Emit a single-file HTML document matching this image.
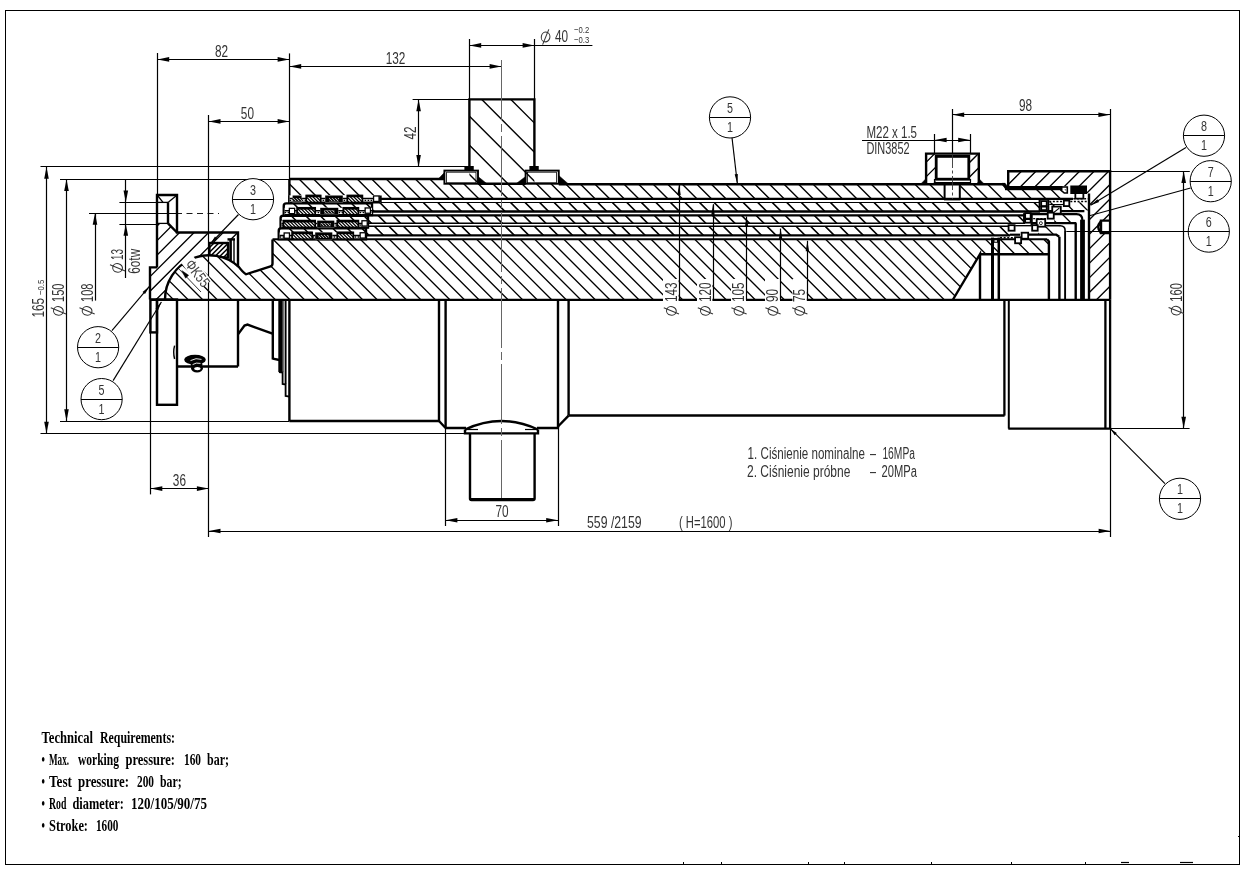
<!DOCTYPE html><html><head><meta charset="utf-8"><title>Drawing</title><style>html,body{margin:0;padding:0;background:#fff;}body{width:1255px;height:871px;overflow:hidden;font-family:"Liberation Sans",sans-serif;}svg{display:block;}svg{will-change:transform;filter:grayscale(1)}</style></head><body><svg width="1255" height="871" viewBox="0 0 1255 871"><defs><clipPath id="c1"><path d="M469.40 99.40 L534.40 99.40 L534.40 183.75 L469.40 183.75 Z"/></clipPath><clipPath id="c2"><path d="M289.40 179.00 L444.40 179.00 L444.40 183.90 L1005.00 184.30 L1007.50 189.50 L1066.00 189.50 L1066.00 198.75 L380.50 198.75 L380.50 195.50 L289.40 195.50 Z M944.2 183 L960.2 183 L960.2 200 L944.2 200 Z" clip-rule="evenodd"/></clipPath><clipPath id="c3"><path d="M372.00 202.10 L1040.00 202.10 L1040.00 211.60 L372.00 211.60 Z"/></clipPath><clipPath id="c4"><path d="M368.00 215.30 L1025.00 215.30 L1025.00 223.20 L368.00 223.20 Z"/></clipPath><clipPath id="c5"><path d="M366.00 226.20 L1010.00 226.20 L1010.00 235.40 L366.00 235.40 Z"/></clipPath><clipPath id="c6"><path d="M157 223.4 L168 223.4 L177 232.5 L238 232.5 L238 299.5 L150 299.5 L150 267.4 L157 267.4 Z"/></clipPath><clipPath id="c7"><path d="M209.40 243.00 L228.00 243.00 L228.00 257.50 L209.40 257.50 Z"/></clipPath><clipPath id="c8"><path d="M165.00 299.5 A44.0 44.0 0 0 1 239.01 267.12 Q243 272.5 246 274.3 L271.3 266.2 L272.5 264 L272.5 239.4 L1049 239.4 L1049 254 L980 254 L953 299.5 Z"/></clipPath><clipPath id="c9"><path d="M283.75 215.0 L283.75 205.9 Q283.75 203.4 286.25 203.4 L372 203.4 L372 215.0 Z"/></clipPath><clipPath id="c10"><path d="M280.6 227.6 L280.6 218.3 Q280.6 215.8 283.1 215.8 L368 215.8 L368 227.6 Z"/></clipPath><clipPath id="c11"><path d="M278.75 239.4 L278.75 230.7 Q278.75 228.2 281.25 228.2 L366 228.2 L366 239.4 Z"/></clipPath><clipPath id="c12"><path d="M292.10 198.10 L302.10 198.10 L302.10 201.30 L292.10 201.30 Z"/></clipPath><clipPath id="c13"><path d="M306.20 195.50 L320.70 195.50 L320.70 202.50 L306.20 202.50 Z"/></clipPath><clipPath id="c14"><path d="M329.00 198.10 L339.00 198.10 L339.00 201.30 L329.00 201.30 Z"/></clipPath><clipPath id="c15"><path d="M347.30 195.50 L362.40 195.50 L362.40 202.50 L347.30 202.50 Z"/></clipPath><clipPath id="c16"><path d="M297.10 207.80 L315.20 207.80 L315.20 214.80 L297.10 214.80 Z"/></clipPath><clipPath id="c17"><path d="M324.25 210.40 L334.25 210.40 L334.25 213.60 L324.25 213.60 Z"/></clipPath><clipPath id="c18"><path d="M343.30 207.80 L358.40 207.80 L358.40 214.80 L343.30 214.80 Z"/></clipPath><clipPath id="c19"><path d="M283.40 220.60 L315.20 220.60 L315.20 227.40 L283.40 227.40 Z"/></clipPath><clipPath id="c20"><path d="M320.75 223.20 L330.75 223.20 L330.75 226.20 L320.75 226.20 Z"/></clipPath><clipPath id="c21"><path d="M337.30 220.60 L358.40 220.60 L358.40 227.40 L337.30 227.40 Z"/></clipPath><clipPath id="c22"><path d="M292.10 232.40 L312.20 232.40 L312.20 239.20 L292.10 239.20 Z"/></clipPath><clipPath id="c23"><path d="M318.75 235.00 L328.75 235.00 L328.75 238.00 L318.75 238.00 Z"/></clipPath><clipPath id="c24"><path d="M337.30 232.40 L353.30 232.40 L353.30 239.20 L337.30 239.20 Z"/></clipPath><clipPath id="c25"><path d="M1008.20 171.20 L1110.30 171.20 L1110.30 299.50 L1089.40 299.50 L1089.40 193.50 L1087.00 193.50 L1087.00 186.20 L1008.20 186.20 Z M1099.5 220.5 L1111 220.5 L1111 233 L1099.5 233 Z" clip-rule="evenodd"/></clipPath><clipPath id="c26"><path d="M926.10 153.60 L935.60 153.60 L935.60 184.00 L926.10 184.00 Z"/></clipPath><clipPath id="c27"><path d="M969.30 153.60 L978.80 153.60 L978.80 184.00 L969.30 184.00 Z"/></clipPath><clipPath id="c28"><path d="M1049.24 202.29 L1088.90 202.29 L1088.90 210.62 L1049.24 210.62 Z"/></clipPath><clipPath id="c29"><path d="M1054.26 214.94 L1075.84 214.94 L1075.84 222.67 L1054.26 222.67 Z"/></clipPath><clipPath id="c30"><path d="M1038.19 226.39 L1059.28 226.39 L1059.28 234.22 L1038.19 234.22 Z"/></clipPath></defs><rect x="5.50" y="10.50" width="1234.00" height="854.00" fill="none" stroke="#000" stroke-width="1"/>
<line x1="683.50" y1="862.00" x2="683.50" y2="864.50" stroke="#000" stroke-width="1" />
<line x1="721.50" y1="862.00" x2="721.50" y2="864.50" stroke="#000" stroke-width="1" />
<line x1="808.50" y1="862.00" x2="808.50" y2="864.50" stroke="#000" stroke-width="1" />
<line x1="844.50" y1="862.00" x2="844.50" y2="864.50" stroke="#000" stroke-width="1" />
<line x1="931.50" y1="862.00" x2="931.50" y2="864.50" stroke="#000" stroke-width="1" />
<line x1="1011.50" y1="862.00" x2="1011.50" y2="864.50" stroke="#000" stroke-width="1" />
<line x1="1085.50" y1="862.00" x2="1085.50" y2="864.50" stroke="#000" stroke-width="1" />
<line x1="1121.00" y1="862.50" x2="1129.00" y2="862.50" stroke="#000" stroke-width="1.2" />
<line x1="1180.00" y1="862.50" x2="1193.00" y2="862.50" stroke="#000" stroke-width="1.2" />
<line x1="1238.00" y1="836.50" x2="1239.50" y2="836.50" stroke="#000" stroke-width="1" />
<g clip-path="url(#c1)" stroke="#000" stroke-width="1.4">
<path d="M363.38 97.40 L451.73 185.75 M392.46 97.40 L480.81 185.75 M421.54 97.40 L509.89 185.75 M450.62 97.40 L538.97 185.75 M479.70 97.40 L568.05 185.75 M508.78 97.40 L597.13 185.75 M537.86 97.40 L626.21 185.75" fill="none"/>
</g>
<path d="M469.40 168.00 L469.40 99.40 L534.40 99.40 L534.40 168.00" fill="none" stroke="#000" stroke-width="2.4" stroke-linejoin="miter" />
<rect x="444.40" y="170.60" width="33.60" height="13.15" fill="none" stroke="#000" stroke-width="1.9"/>
<rect x="525.60" y="170.60" width="33.15" height="13.15" fill="none" stroke="#000" stroke-width="1.9"/>
<rect x="446.60" y="172.20" width="29.40" height="10.60" fill="none" stroke="#000" stroke-width="0.8"/>
<rect x="527.60" y="172.20" width="29.00" height="10.60" fill="none" stroke="#000" stroke-width="0.8"/>
<rect x="464.40" y="166.00" width="9.35" height="4.80" fill="#000"/>
<rect x="529.40" y="166.00" width="9.35" height="4.80" fill="#000"/>
<path d="M438.20 179.00 L444.40 172.50 L444.40 179.00 Z" fill="#000" stroke="#000" stroke-width="0.5" stroke-linejoin="miter" />
<path d="M478.00 176.50 L487.00 183.75 L478.00 183.75 Z" fill="#000" stroke="#000" stroke-width="0.5" stroke-linejoin="miter" />
<path d="M525.60 176.50 L516.00 183.75 L525.60 183.75 Z" fill="#000" stroke="#000" stroke-width="0.5" stroke-linejoin="miter" />
<path d="M558.75 175.50 L568.50 184.00 L558.75 184.00 Z" fill="#000" stroke="#000" stroke-width="0.5" stroke-linejoin="miter" />
<line x1="478.00" y1="183.75" x2="525.60" y2="183.75" stroke="#000" stroke-width="2.4" />
<g clip-path="url(#c2)" stroke="#000" stroke-width="1.4">
<path d="M253.44 177.00 L277.19 200.75 M267.98 177.00 L291.73 200.75 M282.52 177.00 L306.27 200.75 M297.06 177.00 L320.81 200.75 M311.60 177.00 L335.35 200.75 M326.14 177.00 L349.89 200.75 M340.68 177.00 L364.43 200.75 M355.22 177.00 L378.97 200.75 M369.76 177.00 L393.51 200.75 M384.30 177.00 L408.05 200.75 M398.84 177.00 L422.59 200.75 M413.38 177.00 L437.13 200.75 M427.92 177.00 L451.67 200.75 M442.46 177.00 L466.21 200.75 M457.00 177.00 L480.75 200.75 M471.54 177.00 L495.29 200.75 M486.08 177.00 L509.83 200.75 M500.62 177.00 L524.37 200.75 M515.16 177.00 L538.91 200.75 M529.70 177.00 L553.45 200.75 M544.24 177.00 L567.99 200.75 M558.78 177.00 L582.53 200.75 M573.32 177.00 L597.07 200.75 M587.86 177.00 L611.61 200.75 M602.40 177.00 L626.15 200.75 M616.94 177.00 L640.69 200.75 M631.48 177.00 L655.23 200.75 M646.02 177.00 L669.77 200.75 M660.56 177.00 L684.31 200.75 M675.10 177.00 L698.85 200.75 M689.64 177.00 L713.39 200.75 M704.18 177.00 L727.93 200.75 M718.72 177.00 L742.47 200.75 M733.26 177.00 L757.01 200.75 M747.80 177.00 L771.55 200.75 M762.34 177.00 L786.09 200.75 M776.88 177.00 L800.63 200.75 M791.42 177.00 L815.17 200.75 M805.96 177.00 L829.71 200.75 M820.50 177.00 L844.25 200.75 M835.04 177.00 L858.79 200.75 M849.58 177.00 L873.33 200.75 M864.12 177.00 L887.87 200.75 M878.66 177.00 L902.41 200.75 M893.20 177.00 L916.95 200.75 M907.74 177.00 L931.49 200.75 M922.28 177.00 L946.03 200.75 M936.82 177.00 L960.57 200.75 M951.36 177.00 L975.11 200.75 M965.90 177.00 L989.65 200.75 M980.44 177.00 L1004.19 200.75 M994.98 177.00 L1018.73 200.75 M1009.52 177.00 L1033.27 200.75 M1024.06 177.00 L1047.81 200.75 M1038.60 177.00 L1062.35 200.75 M1053.14 177.00 L1076.89 200.75 M1067.68 177.00 L1091.43 200.75" fill="none"/>
</g>
<line x1="289.40" y1="179.00" x2="444.40" y2="179.00" stroke="#000" stroke-width="2.4" />
<line x1="558.75" y1="184.20" x2="1005.00" y2="184.20" stroke="#000" stroke-width="2.4" />
<line x1="380.50" y1="198.90" x2="1073.00" y2="198.90" stroke="#000" stroke-width="2.2" />
<line x1="289.40" y1="179.00" x2="289.40" y2="203.00" stroke="#000" stroke-width="2.4" />
<g clip-path="url(#c3)" stroke="#000" stroke-width="1.6">
<path d="M348.24 200.10 L361.74 213.60 M362.78 200.10 L376.28 213.60 M377.32 200.10 L390.82 213.60 M391.86 200.10 L405.36 213.60 M406.40 200.10 L419.90 213.60 M420.94 200.10 L434.44 213.60 M435.48 200.10 L448.98 213.60 M450.02 200.10 L463.52 213.60 M464.56 200.10 L478.06 213.60 M479.10 200.10 L492.60 213.60 M493.64 200.10 L507.14 213.60 M508.18 200.10 L521.68 213.60 M522.72 200.10 L536.22 213.60 M537.26 200.10 L550.76 213.60 M551.80 200.10 L565.30 213.60 M566.34 200.10 L579.84 213.60 M580.88 200.10 L594.38 213.60 M595.42 200.10 L608.92 213.60 M609.96 200.10 L623.46 213.60 M624.50 200.10 L638.00 213.60 M639.04 200.10 L652.54 213.60 M653.58 200.10 L667.08 213.60 M668.12 200.10 L681.62 213.60 M682.66 200.10 L696.16 213.60 M697.20 200.10 L710.70 213.60 M711.74 200.10 L725.24 213.60 M726.28 200.10 L739.78 213.60 M740.82 200.10 L754.32 213.60 M755.36 200.10 L768.86 213.60 M769.90 200.10 L783.40 213.60 M784.44 200.10 L797.94 213.60 M798.98 200.10 L812.48 213.60 M813.52 200.10 L827.02 213.60 M828.06 200.10 L841.56 213.60 M842.60 200.10 L856.10 213.60 M857.14 200.10 L870.64 213.60 M871.68 200.10 L885.18 213.60 M886.22 200.10 L899.72 213.60 M900.76 200.10 L914.26 213.60 M915.30 200.10 L928.80 213.60 M929.84 200.10 L943.34 213.60 M944.38 200.10 L957.88 213.60 M958.92 200.10 L972.42 213.60 M973.46 200.10 L986.96 213.60 M988.00 200.10 L1001.50 213.60 M1002.54 200.10 L1016.04 213.60 M1017.08 200.10 L1030.58 213.60 M1031.62 200.10 L1045.12 213.60 M1046.16 200.10 L1059.66 213.60" fill="none"/>
</g>
<line x1="372.00" y1="202.50" x2="1040.00" y2="202.50" stroke="#000" stroke-width="1.2" />
<line x1="372.00" y1="211.60" x2="1040.00" y2="211.60" stroke="#000" stroke-width="2.5" />
<g clip-path="url(#c4)" stroke="#000" stroke-width="1.6">
<path d="M346.90 213.30 L358.80 225.20 M361.44 213.30 L373.34 225.20 M375.98 213.30 L387.88 225.20 M390.52 213.30 L402.42 225.20 M405.06 213.30 L416.96 225.20 M419.60 213.30 L431.50 225.20 M434.14 213.30 L446.04 225.20 M448.68 213.30 L460.58 225.20 M463.22 213.30 L475.12 225.20 M477.76 213.30 L489.66 225.20 M492.30 213.30 L504.20 225.20 M506.84 213.30 L518.74 225.20 M521.38 213.30 L533.28 225.20 M535.92 213.30 L547.82 225.20 M550.46 213.30 L562.36 225.20 M565.00 213.30 L576.90 225.20 M579.54 213.30 L591.44 225.20 M594.08 213.30 L605.98 225.20 M608.62 213.30 L620.52 225.20 M623.16 213.30 L635.06 225.20 M637.70 213.30 L649.60 225.20 M652.24 213.30 L664.14 225.20 M666.78 213.30 L678.68 225.20 M681.32 213.30 L693.22 225.20 M695.86 213.30 L707.76 225.20 M710.40 213.30 L722.30 225.20 M724.94 213.30 L736.84 225.20 M739.48 213.30 L751.38 225.20 M754.02 213.30 L765.92 225.20 M768.56 213.30 L780.46 225.20 M783.10 213.30 L795.00 225.20 M797.64 213.30 L809.54 225.20 M812.18 213.30 L824.08 225.20 M826.72 213.30 L838.62 225.20 M841.26 213.30 L853.16 225.20 M855.80 213.30 L867.70 225.20 M870.34 213.30 L882.24 225.20 M884.88 213.30 L896.78 225.20 M899.42 213.30 L911.32 225.20 M913.96 213.30 L925.86 225.20 M928.50 213.30 L940.40 225.20 M943.04 213.30 L954.94 225.20 M957.58 213.30 L969.48 225.20 M972.12 213.30 L984.02 225.20 M986.66 213.30 L998.56 225.20 M1001.20 213.30 L1013.10 225.20 M1015.74 213.30 L1027.64 225.20 M1030.28 213.30 L1042.18 225.20" fill="none"/>
</g>
<line x1="368.00" y1="215.30" x2="1025.00" y2="215.30" stroke="#000" stroke-width="2.2" />
<line x1="368.00" y1="223.20" x2="1025.00" y2="223.20" stroke="#000" stroke-width="1.6" />
<g clip-path="url(#c5)" stroke="#000" stroke-width="1.6">
<path d="M343.26 224.20 L356.46 237.40 M357.80 224.20 L371.00 237.40 M372.34 224.20 L385.54 237.40 M386.88 224.20 L400.08 237.40 M401.42 224.20 L414.62 237.40 M415.96 224.20 L429.16 237.40 M430.50 224.20 L443.70 237.40 M445.04 224.20 L458.24 237.40 M459.58 224.20 L472.78 237.40 M474.12 224.20 L487.32 237.40 M488.66 224.20 L501.86 237.40 M503.20 224.20 L516.40 237.40 M517.74 224.20 L530.94 237.40 M532.28 224.20 L545.48 237.40 M546.82 224.20 L560.02 237.40 M561.36 224.20 L574.56 237.40 M575.90 224.20 L589.10 237.40 M590.44 224.20 L603.64 237.40 M604.98 224.20 L618.18 237.40 M619.52 224.20 L632.72 237.40 M634.06 224.20 L647.26 237.40 M648.60 224.20 L661.80 237.40 M663.14 224.20 L676.34 237.40 M677.68 224.20 L690.88 237.40 M692.22 224.20 L705.42 237.40 M706.76 224.20 L719.96 237.40 M721.30 224.20 L734.50 237.40 M735.84 224.20 L749.04 237.40 M750.38 224.20 L763.58 237.40 M764.92 224.20 L778.12 237.40 M779.46 224.20 L792.66 237.40 M794.00 224.20 L807.20 237.40 M808.54 224.20 L821.74 237.40 M823.08 224.20 L836.28 237.40 M837.62 224.20 L850.82 237.40 M852.16 224.20 L865.36 237.40 M866.70 224.20 L879.90 237.40 M881.24 224.20 L894.44 237.40 M895.78 224.20 L908.98 237.40 M910.32 224.20 L923.52 237.40 M924.86 224.20 L938.06 237.40 M939.40 224.20 L952.60 237.40 M953.94 224.20 L967.14 237.40 M968.48 224.20 L981.68 237.40 M983.02 224.20 L996.22 237.40 M997.56 224.20 L1010.76 237.40 M1012.10 224.20 L1025.30 237.40" fill="none"/>
</g>
<line x1="366.00" y1="226.20" x2="1010.00" y2="226.20" stroke="#000" stroke-width="1.4" />
<line x1="366.00" y1="235.40" x2="1010.00" y2="235.40" stroke="#000" stroke-width="2.4" />
<g clip-path="url(#c6)" stroke="#000" stroke-width="1.35">
<path d="M148.42 191.00 L36.42 303.00 M162.96 191.00 L50.96 303.00 M177.50 191.00 L65.50 303.00 M192.04 191.00 L80.04 303.00 M206.58 191.00 L94.58 303.00 M221.12 191.00 L109.12 303.00 M235.66 191.00 L123.66 303.00 M250.20 191.00 L138.20 303.00 M264.74 191.00 L152.74 303.00 M279.28 191.00 L167.28 303.00 M293.82 191.00 L181.82 303.00 M308.36 191.00 L196.36 303.00 M322.90 191.00 L210.90 303.00 M337.44 191.00 L225.44 303.00 M351.98 191.00 L239.98 303.00" fill="none"/>
</g>
<rect x="209.40" y="243.00" width="28.60" height="32.00" fill="#fff"/>
<rect x="227.50" y="239.40" width="10.50" height="4.60" fill="#fff"/>
<g clip-path="url(#c7)" stroke="#000" stroke-width="1.5">
<path d="M211.20 241.00 L192.70 259.50 M216.00 241.00 L197.50 259.50 M220.80 241.00 L202.30 259.50 M225.60 241.00 L207.10 259.50 M230.40 241.00 L211.90 259.50 M235.20 241.00 L216.70 259.50 M240.00 241.00 L221.50 259.50 M244.80 241.00 L226.30 259.50" fill="none"/>
</g>
<rect x="209.40" y="243.00" width="18.60" height="14.50" fill="none" stroke="#000" stroke-width="2.4"/>
<line x1="227.50" y1="239.40" x2="235.00" y2="239.40" stroke="#000" stroke-width="2.4" />
<line x1="230.60" y1="239.40" x2="230.60" y2="266.00" stroke="#000" stroke-width="2.6" />
<line x1="234.00" y1="239.40" x2="234.00" y2="268.00" stroke="#000" stroke-width="1.4" />
<path d="M165.00 299.5 A44.0 44.0 0 0 1 239.01 267.12 Q243 272.5 246 274.3 L271.3 266.2 L272.5 264 L272.5 239.4 L1049 239.4 L1049 254 L980 254 L953 299.5 Z" fill="#fff" stroke="none" stroke-width="0" />
<g clip-path="url(#c8)" stroke="#000" stroke-width="1.35">
<path d="M77.80 233.00 L148.80 304.00 M92.34 233.00 L163.34 304.00 M106.88 233.00 L177.88 304.00 M121.42 233.00 L192.42 304.00 M135.96 233.00 L206.96 304.00 M150.50 233.00 L221.50 304.00 M165.04 233.00 L236.04 304.00 M179.58 233.00 L250.58 304.00 M194.12 233.00 L265.12 304.00 M208.66 233.00 L279.66 304.00 M223.20 233.00 L294.20 304.00 M237.74 233.00 L308.74 304.00 M252.28 233.00 L323.28 304.00 M266.82 233.00 L337.82 304.00 M281.36 233.00 L352.36 304.00 M295.90 233.00 L366.90 304.00 M310.44 233.00 L381.44 304.00 M324.98 233.00 L395.98 304.00 M339.52 233.00 L410.52 304.00 M354.06 233.00 L425.06 304.00 M368.60 233.00 L439.60 304.00 M383.14 233.00 L454.14 304.00 M397.68 233.00 L468.68 304.00 M412.22 233.00 L483.22 304.00 M426.76 233.00 L497.76 304.00 M441.30 233.00 L512.30 304.00 M455.84 233.00 L526.84 304.00 M470.38 233.00 L541.38 304.00 M484.92 233.00 L555.92 304.00 M499.46 233.00 L570.46 304.00 M514.00 233.00 L585.00 304.00 M528.54 233.00 L599.54 304.00 M543.08 233.00 L614.08 304.00 M557.62 233.00 L628.62 304.00 M572.16 233.00 L643.16 304.00 M586.70 233.00 L657.70 304.00 M601.24 233.00 L672.24 304.00 M615.78 233.00 L686.78 304.00 M630.32 233.00 L701.32 304.00 M644.86 233.00 L715.86 304.00 M659.40 233.00 L730.40 304.00 M673.94 233.00 L744.94 304.00 M688.48 233.00 L759.48 304.00 M703.02 233.00 L774.02 304.00 M717.56 233.00 L788.56 304.00 M732.10 233.00 L803.10 304.00 M746.64 233.00 L817.64 304.00 M761.18 233.00 L832.18 304.00 M775.72 233.00 L846.72 304.00 M790.26 233.00 L861.26 304.00 M804.80 233.00 L875.80 304.00 M819.34 233.00 L890.34 304.00 M833.88 233.00 L904.88 304.00 M848.42 233.00 L919.42 304.00 M862.96 233.00 L933.96 304.00 M877.50 233.00 L948.50 304.00 M892.04 233.00 L963.04 304.00 M906.58 233.00 L977.58 304.00 M921.12 233.00 L992.12 304.00 M935.66 233.00 L1006.66 304.00 M950.20 233.00 L1021.20 304.00 M964.74 233.00 L1035.74 304.00 M979.28 233.00 L1050.28 304.00 M993.82 233.00 L1064.82 304.00 M1008.36 233.00 L1079.36 304.00 M1022.90 233.00 L1093.90 304.00 M1037.44 233.00 L1108.44 304.00 M1051.98 233.00 L1122.98 304.00 M1066.52 233.00 L1137.52 304.00" fill="none"/>
</g>
<path d="M165.00 299.5 A44.0 44.0 0 0 1 239.01 267.12 Q243 272.5 246 274.3 L270.5 266.4 Q272.5 265.8 272.5 263.5 L272.5 239.4" fill="none" stroke="#000" stroke-width="2.4" />
<line x1="272.50" y1="239.20" x2="1047.00" y2="239.20" stroke="#000" stroke-width="2.1" />
<path d="M1047.00 239.30 L1048.90 241.50 L1048.90 299.50" fill="none" stroke="#000" stroke-width="2.4" stroke-linejoin="miter" />
<line x1="980.00" y1="254.20" x2="1049.00" y2="254.20" stroke="#000" stroke-width="2.4" />
<path d="M980.00 299.50 L980.00 254.20 L953.00 299.50" fill="none" stroke="#000" stroke-width="2.4" stroke-linejoin="miter" />
<path d="M157.00 267.40 L157.00 195.00 L177.00 195.00 L177.00 232.50 L238.00 232.50 L238.00 266.40" fill="none" stroke="#000" stroke-width="2.4" stroke-linejoin="miter" />
<path d="M157.00 267.40 L150.00 267.40 L150.00 299.50" fill="none" stroke="#000" stroke-width="2.4" stroke-linejoin="miter" />
<line x1="157.00" y1="202.40" x2="168.00" y2="202.40" stroke="#000" stroke-width="1.3" />
<line x1="157.00" y1="223.40" x2="168.00" y2="223.40" stroke="#000" stroke-width="1.3" />
<line x1="168.00" y1="202.40" x2="168.00" y2="223.40" stroke="#000" stroke-width="2.4" />
<line x1="157.50" y1="195.50" x2="163.00" y2="202.40" stroke="#000" stroke-width="1.3" />
<line x1="176.50" y1="195.50" x2="168.00" y2="202.40" stroke="#000" stroke-width="1.3" />
<line x1="168.00" y1="223.40" x2="177.00" y2="232.50" stroke="#000" stroke-width="2.4" />
<rect x="283.75" y="204.40" width="88.25" height="10.60" fill="#fff"/>
<g clip-path="url(#c9)" stroke="#000" stroke-width="1.5">
<path d="M262.30 201.40 L277.90 217.00 M276.84 201.40 L292.44 217.00 M291.38 201.40 L306.98 217.00 M305.92 201.40 L321.52 217.00 M320.46 201.40 L336.06 217.00 M335.00 201.40 L350.60 217.00 M349.54 201.40 L365.14 217.00 M364.08 201.40 L379.68 217.00 M378.62 201.40 L394.22 217.00" fill="none"/>
</g>
<path d="M283.75 215.0 L283.75 205.9 Q283.75 203.4 286.25 203.4 L372 203.4 L372 215.0 Z" fill="none" stroke="#000" stroke-width="2.4" />
<rect x="280.60" y="216.80" width="87.40" height="10.80" fill="#fff"/>
<g clip-path="url(#c10)" stroke="#000" stroke-width="1.5">
<path d="M260.16 213.80 L275.96 229.60 M274.70 213.80 L290.50 229.60 M289.24 213.80 L305.04 229.60 M303.78 213.80 L319.58 229.60 M318.32 213.80 L334.12 229.60 M332.86 213.80 L348.66 229.60 M347.40 213.80 L363.20 229.60 M361.94 213.80 L377.74 229.60 M376.48 213.80 L392.28 229.60" fill="none"/>
</g>
<path d="M280.6 227.6 L280.6 218.3 Q280.6 215.8 283.1 215.8 L368 215.8 L368 227.6 Z" fill="none" stroke="#000" stroke-width="2.4" />
<rect x="278.75" y="229.20" width="87.25" height="10.20" fill="#fff"/>
<g clip-path="url(#c11)" stroke="#000" stroke-width="1.5">
<path d="M258.02 226.20 L273.22 241.40 M272.56 226.20 L287.76 241.40 M287.10 226.20 L302.30 241.40 M301.64 226.20 L316.84 241.40 M316.18 226.20 L331.38 241.40 M330.72 226.20 L345.92 241.40 M345.26 226.20 L360.46 241.40 M359.80 226.20 L375.00 241.40 M374.34 226.20 L389.54 241.40" fill="none"/>
</g>
<path d="M278.75 239.4 L278.75 230.7 Q278.75 228.2 281.25 228.2 L366 228.2 L366 239.4 Z" fill="none" stroke="#000" stroke-width="2.4" />
<rect x="289.40" y="195.40" width="91.10" height="7.60" fill="#fff"/>
<line x1="289.40" y1="195.50" x2="289.40" y2="203.00" stroke="#000" stroke-width="2.4" />
<rect x="289.60" y="195.50" width="90.90" height="7.00" fill="#fff"/>
<line x1="289.60" y1="202.50" x2="380.50" y2="202.50" stroke="#000" stroke-width="1.8" />
<line x1="289.60" y1="198.50" x2="380.50" y2="198.50" stroke="#000" stroke-width="1.5" />
<line x1="289.60" y1="200.30" x2="380.50" y2="200.30" stroke="#000" stroke-width="1.3" stroke-dasharray="1.6 1.4"/>
<rect x="292.60" y="195.50" width="9.00" height="7.00" fill="#fff"/>
<rect x="292.60" y="195.50" width="9.00" height="7.00" fill="#000"/>
<rect x="292.10" y="198.10" width="10.00" height="3.20" fill="#fff"/>
<g clip-path="url(#c12)" stroke="#000" stroke-width="1.5">
<path d="M286.60 196.10 L293.80 203.30 M289.60 196.10 L296.80 203.30 M292.60 196.10 L299.80 203.30 M295.60 196.10 L302.80 203.30 M298.60 196.10 L305.80 203.30 M301.60 196.10 L308.80 203.30" fill="none"/>
</g>
<rect x="306.20" y="195.50" width="14.50" height="7.00" fill="#fff"/>
<g clip-path="url(#c13)" stroke="#000" stroke-width="1.25">
<path d="M296.00 193.50 L307.00 204.50 M299.40 193.50 L310.40 204.50 M302.80 193.50 L313.80 204.50 M306.20 193.50 L317.20 204.50 M309.60 193.50 L320.60 204.50 M313.00 193.50 L324.00 204.50 M316.40 193.50 L327.40 204.50 M319.80 193.50 L330.80 204.50" fill="none"/>
</g>
<rect x="306.20" y="195.50" width="14.50" height="7.00" fill="none" stroke="#000" stroke-width="1.7"/>
<line x1="306.20" y1="196.10" x2="320.70" y2="196.10" stroke="#000" stroke-width="2.4" />
<rect x="325.20" y="195.50" width="17.60" height="7.00" fill="#fff"/>
<rect x="325.20" y="195.50" width="17.60" height="7.00" fill="#000"/>
<rect x="329.00" y="198.10" width="10.00" height="3.20" fill="#fff"/>
<g clip-path="url(#c14)" stroke="#000" stroke-width="1.5">
<path d="M322.60 196.10 L329.80 203.30 M325.60 196.10 L332.80 203.30 M328.60 196.10 L335.80 203.30 M331.60 196.10 L338.80 203.30 M334.60 196.10 L341.80 203.30 M337.60 196.10 L344.80 203.30" fill="none"/>
</g>
<rect x="347.30" y="195.50" width="15.10" height="7.00" fill="#fff"/>
<g clip-path="url(#c15)" stroke="#000" stroke-width="1.25">
<path d="M336.80 193.50 L347.80 204.50 M340.20 193.50 L351.20 204.50 M343.60 193.50 L354.60 204.50 M347.00 193.50 L358.00 204.50 M350.40 193.50 L361.40 204.50 M353.80 193.50 L364.80 204.50 M357.20 193.50 L368.20 204.50 M360.60 193.50 L371.60 204.50" fill="none"/>
</g>
<rect x="347.30" y="195.50" width="15.10" height="7.00" fill="none" stroke="#000" stroke-width="1.7"/>
<line x1="347.30" y1="196.10" x2="362.40" y2="196.10" stroke="#000" stroke-width="2.4" />
<rect x="372.90" y="195.30" width="6.80" height="6.80" fill="#000"/>
<rect x="374.20" y="196.60" width="4.20" height="4.20" fill="#fff"/>
<line x1="380.50" y1="195.50" x2="380.50" y2="202.50" stroke="#000" stroke-width="2.4" />
<rect x="284.60" y="207.80" width="87.40" height="7.00" fill="#fff"/>
<line x1="284.60" y1="214.80" x2="372.00" y2="214.80" stroke="#000" stroke-width="1.8" />
<line x1="284.60" y1="210.80" x2="372.00" y2="210.80" stroke="#000" stroke-width="1.5" />
<line x1="284.60" y1="212.60" x2="372.00" y2="212.60" stroke="#000" stroke-width="1.3" stroke-dasharray="1.6 1.4"/>
<rect x="297.10" y="207.80" width="18.10" height="7.00" fill="#fff"/>
<g clip-path="url(#c16)" stroke="#000" stroke-width="1.25">
<path d="M287.90 205.80 L298.90 216.80 M291.30 205.80 L302.30 216.80 M294.70 205.80 L305.70 216.80 M298.10 205.80 L309.10 216.80 M301.50 205.80 L312.50 216.80 M304.90 205.80 L315.90 216.80 M308.30 205.80 L319.30 216.80 M311.70 205.80 L322.70 216.80 M315.10 205.80 L326.10 216.80" fill="none"/>
</g>
<rect x="297.10" y="207.80" width="18.10" height="7.00" fill="none" stroke="#000" stroke-width="1.7"/>
<line x1="297.10" y1="208.40" x2="315.20" y2="208.40" stroke="#000" stroke-width="2.4" />
<rect x="320.20" y="207.80" width="18.10" height="7.00" fill="#fff"/>
<rect x="320.20" y="207.80" width="18.10" height="7.00" fill="#000"/>
<rect x="324.25" y="210.40" width="10.00" height="3.20" fill="#fff"/>
<g clip-path="url(#c17)" stroke="#000" stroke-width="1.5">
<path d="M316.90 208.40 L324.10 215.60 M319.90 208.40 L327.10 215.60 M322.90 208.40 L330.10 215.60 M325.90 208.40 L333.10 215.60 M328.90 208.40 L336.10 215.60 M331.90 208.40 L339.10 215.60 M334.90 208.40 L342.10 215.60" fill="none"/>
</g>
<rect x="343.30" y="207.80" width="15.10" height="7.00" fill="#fff"/>
<g clip-path="url(#c18)" stroke="#000" stroke-width="1.25">
<path d="M332.10 205.80 L343.10 216.80 M335.50 205.80 L346.50 216.80 M338.90 205.80 L349.90 216.80 M342.30 205.80 L353.30 216.80 M345.70 205.80 L356.70 216.80 M349.10 205.80 L360.10 216.80 M352.50 205.80 L363.50 216.80 M355.90 205.80 L366.90 216.80 M359.30 205.80 L370.30 216.80" fill="none"/>
</g>
<rect x="343.30" y="207.80" width="15.10" height="7.00" fill="none" stroke="#000" stroke-width="1.7"/>
<line x1="343.30" y1="208.40" x2="358.40" y2="208.40" stroke="#000" stroke-width="2.4" />
<rect x="288.70" y="207.70" width="6.60" height="6.60" fill="#000"/>
<rect x="290.00" y="209.00" width="4.00" height="4.00" fill="#fff"/>
<rect x="364.50" y="207.30" width="6.60" height="6.60" fill="#000"/>
<rect x="365.80" y="208.60" width="4.00" height="4.00" fill="#fff"/>
<rect x="281.40" y="220.60" width="86.60" height="6.80" fill="#fff"/>
<line x1="281.40" y1="227.40" x2="368.00" y2="227.40" stroke="#000" stroke-width="1.8" />
<line x1="281.40" y1="223.60" x2="368.00" y2="223.60" stroke="#000" stroke-width="1.5" />
<line x1="281.40" y1="225.20" x2="368.00" y2="225.20" stroke="#000" stroke-width="1.3" stroke-dasharray="1.6 1.4"/>
<rect x="283.40" y="220.60" width="31.80" height="6.80" fill="#fff"/>
<g clip-path="url(#c19)" stroke="#000" stroke-width="1.25">
<path d="M273.50 218.60 L284.30 229.40 M276.90 218.60 L287.70 229.40 M280.30 218.60 L291.10 229.40 M283.70 218.60 L294.50 229.40 M287.10 218.60 L297.90 229.40 M290.50 218.60 L301.30 229.40 M293.90 218.60 L304.70 229.40 M297.30 218.60 L308.10 229.40 M300.70 218.60 L311.50 229.40 M304.10 218.60 L314.90 229.40 M307.50 218.60 L318.30 229.40 M310.90 218.60 L321.70 229.40 M314.30 218.60 L325.10 229.40" fill="none"/>
</g>
<rect x="283.40" y="220.60" width="31.80" height="6.80" fill="none" stroke="#000" stroke-width="1.7"/>
<line x1="283.40" y1="221.20" x2="315.20" y2="221.20" stroke="#000" stroke-width="2.4" />
<rect x="317.20" y="220.60" width="17.10" height="6.80" fill="#fff"/>
<rect x="317.20" y="220.60" width="17.10" height="6.80" fill="#000"/>
<rect x="320.75" y="223.20" width="10.00" height="3.00" fill="#fff"/>
<g clip-path="url(#c20)" stroke="#000" stroke-width="1.5">
<path d="M314.70 221.20 L321.70 228.20 M317.70 221.20 L324.70 228.20 M320.70 221.20 L327.70 228.20 M323.70 221.20 L330.70 228.20 M326.70 221.20 L333.70 228.20 M329.70 221.20 L336.70 228.20" fill="none"/>
</g>
<rect x="337.30" y="220.60" width="21.10" height="6.80" fill="#fff"/>
<g clip-path="url(#c21)" stroke="#000" stroke-width="1.25">
<path d="M327.90 218.60 L338.70 229.40 M331.30 218.60 L342.10 229.40 M334.70 218.60 L345.50 229.40 M338.10 218.60 L348.90 229.40 M341.50 218.60 L352.30 229.40 M344.90 218.60 L355.70 229.40 M348.30 218.60 L359.10 229.40 M351.70 218.60 L362.50 229.40 M355.10 218.60 L365.90 229.40 M358.50 218.60 L369.30 229.40" fill="none"/>
</g>
<rect x="337.30" y="220.60" width="21.10" height="6.80" fill="none" stroke="#000" stroke-width="1.7"/>
<line x1="337.30" y1="221.20" x2="358.40" y2="221.20" stroke="#000" stroke-width="2.4" />
<rect x="361.30" y="220.10" width="6.60" height="6.60" fill="#000"/>
<rect x="362.60" y="221.40" width="4.00" height="4.00" fill="#fff"/>
<rect x="279.60" y="232.40" width="86.40" height="6.80" fill="#fff"/>
<line x1="279.60" y1="239.20" x2="366.00" y2="239.20" stroke="#000" stroke-width="1.8" />
<line x1="279.60" y1="235.40" x2="366.00" y2="235.40" stroke="#000" stroke-width="1.5" />
<line x1="279.60" y1="237.00" x2="366.00" y2="237.00" stroke="#000" stroke-width="1.3" stroke-dasharray="1.6 1.4"/>
<rect x="292.10" y="232.40" width="20.10" height="6.80" fill="#fff"/>
<g clip-path="url(#c22)" stroke="#000" stroke-width="1.25">
<path d="M281.90 230.40 L292.70 241.20 M285.30 230.40 L296.10 241.20 M288.70 230.40 L299.50 241.20 M292.10 230.40 L302.90 241.20 M295.50 230.40 L306.30 241.20 M298.90 230.40 L309.70 241.20 M302.30 230.40 L313.10 241.20 M305.70 230.40 L316.50 241.20 M309.10 230.40 L319.90 241.20 M312.50 230.40 L323.30 241.20" fill="none"/>
</g>
<rect x="292.10" y="232.40" width="20.10" height="6.80" fill="none" stroke="#000" stroke-width="1.7"/>
<line x1="292.10" y1="233.00" x2="312.20" y2="233.00" stroke="#000" stroke-width="2.4" />
<rect x="315.20" y="232.40" width="17.10" height="6.80" fill="#fff"/>
<rect x="315.20" y="232.40" width="17.10" height="6.80" fill="#000"/>
<rect x="318.75" y="235.00" width="10.00" height="3.00" fill="#fff"/>
<g clip-path="url(#c23)" stroke="#000" stroke-width="1.5">
<path d="M311.50 233.00 L318.50 240.00 M314.50 233.00 L321.50 240.00 M317.50 233.00 L324.50 240.00 M320.50 233.00 L327.50 240.00 M323.50 233.00 L330.50 240.00 M326.50 233.00 L333.50 240.00 M329.50 233.00 L336.50 240.00" fill="none"/>
</g>
<rect x="337.30" y="232.40" width="16.00" height="6.80" fill="#fff"/>
<g clip-path="url(#c24)" stroke="#000" stroke-width="1.25">
<path d="M326.10 230.40 L336.90 241.20 M329.50 230.40 L340.30 241.20 M332.90 230.40 L343.70 241.20 M336.30 230.40 L347.10 241.20 M339.70 230.40 L350.50 241.20 M343.10 230.40 L353.90 241.20 M346.50 230.40 L357.30 241.20 M349.90 230.40 L360.70 241.20 M353.30 230.40 L364.10 241.20" fill="none"/>
</g>
<rect x="337.30" y="232.40" width="16.00" height="6.80" fill="none" stroke="#000" stroke-width="1.7"/>
<line x1="337.30" y1="233.00" x2="353.30" y2="233.00" stroke="#000" stroke-width="2.4" />
<rect x="283.50" y="232.30" width="6.60" height="6.60" fill="#000"/>
<rect x="284.80" y="233.60" width="4.00" height="4.00" fill="#fff"/>
<rect x="359.50" y="232.10" width="6.60" height="6.60" fill="#000"/>
<rect x="360.80" y="233.40" width="4.00" height="4.00" fill="#fff"/>
<g clip-path="url(#c25)" stroke="#000" stroke-width="1.35">
<path d="M1008.94 169.20 L876.64 301.50 M1023.48 169.20 L891.18 301.50 M1038.02 169.20 L905.72 301.50 M1052.56 169.20 L920.26 301.50 M1067.10 169.20 L934.80 301.50 M1081.64 169.20 L949.34 301.50 M1096.18 169.20 L963.88 301.50 M1110.72 169.20 L978.42 301.50 M1125.26 169.20 L992.96 301.50 M1139.80 169.20 L1007.50 301.50 M1154.34 169.20 L1022.04 301.50 M1168.88 169.20 L1036.58 301.50 M1183.42 169.20 L1051.12 301.50 M1197.96 169.20 L1065.66 301.50 M1212.50 169.20 L1080.20 301.50 M1227.04 169.20 L1094.74 301.50 M1241.58 169.20 L1109.28 301.50" fill="none"/>
</g>
<path d="M1008.20 188.00 L1008.20 171.20 L1110.10 171.20 L1110.10 299.50" fill="none" stroke="#000" stroke-width="2.4" stroke-linejoin="miter" />
<line x1="1089.00" y1="193.50" x2="1089.00" y2="299.50" stroke="#000" stroke-width="2.4" />
<path d="M1110.00 220.60 L1101.00 220.60 L1101.00 233.00 L1110.00 233.00" fill="none" stroke="#000" stroke-width="2.4" stroke-linejoin="miter" />
<path d="M1101 221 Q1095.5 227 1101 233" fill="none" stroke="#000" stroke-width="2.4" />
<rect x="1005.00" y="186.00" width="57.50" height="4.20" fill="#000"/>
<path d="M1002.00 183.30 L1005.20 183.30 L1008.00 187.00 L1006.00 190.00 L1003.50 186.00 Z" fill="#000" stroke="#000" stroke-width="0.5" stroke-linejoin="miter" />
<rect x="1070.30" y="185.50" width="16.70" height="8.50" fill="#000"/>
<path d="M1060.00 187.00 L1067.30 187.00 L1067.30 193.00 L1064.30 193.00 L1060.50 189.80" fill="none" stroke="#000" stroke-width="1.6" stroke-linejoin="miter" />
<g clip-path="url(#c26)" stroke="#000" stroke-width="1.35">
<path d="M922.22 151.60 L887.82 186.00 M936.76 151.60 L902.36 186.00 M951.30 151.60 L916.90 186.00 M965.84 151.60 L931.44 186.00 M980.38 151.60 L945.98 186.00" fill="none"/>
</g>
<g clip-path="url(#c27)" stroke="#000" stroke-width="1.35">
<path d="M965.84 151.60 L931.44 186.00 M980.38 151.60 L945.98 186.00 M994.92 151.60 L960.52 186.00 M1009.46 151.60 L975.06 186.00 M1024.00 151.60 L989.60 186.00" fill="none"/>
</g>
<path d="M926.10 184.00 L926.10 153.60 L978.80 153.60 L978.80 184.00" fill="none" stroke="#000" stroke-width="2.4" stroke-linejoin="miter" />
<rect x="936.20" y="156.40" width="32.60" height="22.80" fill="none" stroke="#000" stroke-width="2.8"/>
<line x1="935.00" y1="182.50" x2="970.00" y2="182.50" stroke="#000" stroke-width="1" />
<line x1="934.50" y1="179.00" x2="934.50" y2="184.00" stroke="#000" stroke-width="1.2" />
<line x1="970.50" y1="179.00" x2="970.50" y2="184.00" stroke="#000" stroke-width="1.2" />
<path d="M920.50 184.20 L926.10 178.50 L926.10 184.20 Z" fill="#000" stroke="#000" stroke-width="0.5" stroke-linejoin="miter" />
<path d="M984.50 184.20 L978.80 178.50 L978.80 184.20 Z" fill="#000" stroke="#000" stroke-width="0.5" stroke-linejoin="miter" />
<line x1="944.60" y1="184.00" x2="944.60" y2="199.50" stroke="#000" stroke-width="2.0" />
<line x1="959.80" y1="184.00" x2="959.80" y2="199.50" stroke="#000" stroke-width="2.0" />
<line x1="944.00" y1="199.40" x2="960.50" y2="199.40" stroke="#000" stroke-width="2.0" />
<g clip-path="url(#c28)" stroke="#000" stroke-width="1.35">
<path d="M1033.81 200.29 L1046.14 212.62 M1048.35 200.29 L1060.68 212.62 M1062.89 200.29 L1075.22 212.62 M1077.43 200.29 L1089.76 212.62 M1091.97 200.29 L1104.30 212.62" fill="none"/>
</g>
<g clip-path="url(#c29)" stroke="#000" stroke-width="1.35">
<path d="M1031.92 212.94 L1043.65 224.67 M1046.46 212.94 L1058.19 224.67 M1061.00 212.94 L1072.73 224.67 M1075.54 212.94 L1087.27 224.67" fill="none"/>
</g>
<g clip-path="url(#c30)" stroke="#000" stroke-width="1.35">
<path d="M1014.29 224.39 L1026.12 236.22 M1028.83 224.39 L1040.66 236.22 M1043.37 224.39 L1055.20 236.22 M1057.91 224.39 L1069.74 236.22" fill="none"/>
</g>
<line x1="1040.00" y1="211.12" x2="1084.38" y2="211.12" stroke="#000" stroke-width="2.4" />
<line x1="1049.24" y1="204.50" x2="1064.30" y2="204.50" stroke="#000" stroke-width="1.0" />
<line x1="1049.24" y1="201.59" x2="1064.30" y2="201.59" stroke="#000" stroke-width="1.5" stroke-dasharray="2 1.6"/>
<line x1="1070.32" y1="201.59" x2="1088.90" y2="201.59" stroke="#000" stroke-width="1.5" stroke-dasharray="2 1.6"/>
<line x1="1073.33" y1="198.78" x2="1088.90" y2="198.78" stroke="#000" stroke-width="1.4" stroke-dasharray="2 1.6"/>
<line x1="1039.70" y1="199.58" x2="1039.70" y2="211.33" stroke="#000" stroke-width="2.2" />
<line x1="1048.23" y1="199.58" x2="1048.23" y2="211.33" stroke="#000" stroke-width="2.2" />
<rect x="1040.70" y="200.58" width="6.53" height="9.54" fill="#fff"/>
<path d="M1025 214.14 L1076.35 214.14 Q1082.37 214.14 1082.37 220.16" fill="none" stroke="#000" stroke-width="2.2" />
<line x1="1024.14" y1="213.13" x2="1024.14" y2="223.37" stroke="#000" stroke-width="2.2" />
<line x1="1031.67" y1="213.13" x2="1031.67" y2="226.18" stroke="#000" stroke-width="2.2" />
<rect x="1025.14" y="214.64" width="5.52" height="8.03" fill="#fff"/>
<line x1="1025.00" y1="223.17" x2="1024.14" y2="223.17" stroke="#000" stroke-width="1.8" />
<line x1="1031.67" y1="223.17" x2="1076.35" y2="223.17" stroke="#000" stroke-width="2.2" />
<line x1="1033.17" y1="218.65" x2="1046.22" y2="218.65" stroke="#000" stroke-width="1.4" stroke-dasharray="2 1.6"/>
<line x1="1010.00" y1="225.68" x2="1008.07" y2="225.68" stroke="#000" stroke-width="1.4" />
<line x1="1015.10" y1="225.68" x2="1032.17" y2="225.68" stroke="#000" stroke-width="1.4" />
<path d="M1045.22 225.68 L1060.28 225.68 Q1065.10 225.98 1065.10 230.20" fill="none" stroke="#000" stroke-width="1.6" />
<line x1="1010.00" y1="234.72" x2="1020.12" y2="234.72" stroke="#000" stroke-width="2.2" />
<path d="M1028.15 234.72 L1056.27 234.72 L1059.28 236.73" fill="none" stroke="#000" stroke-width="2.2" stroke-linejoin="miter" />
<rect x="1008.57" y="225.18" width="6.53" height="5.52" fill="#fff"/>
<rect x="1031.67" y="225.18" width="6.53" height="5.52" fill="#fff"/>
<line x1="1000.04" y1="237.73" x2="1015.10" y2="237.73" stroke="#000" stroke-width="1.4" stroke-dasharray="2 1.6"/>
<rect x="1040.29" y="200.17" width="7.34" height="6.84" fill="#000"/>
<rect x="1042.11" y="201.99" width="3.70" height="3.20" fill="#fff"/>
<rect x="1040.29" y="205.70" width="7.34" height="5.33" fill="#000"/>
<rect x="1042.11" y="207.52" width="3.70" height="1.69" fill="#fff"/>
<rect x="1062.89" y="199.67" width="7.34" height="7.34" fill="#000"/>
<rect x="1064.71" y="201.49" width="3.70" height="3.70" fill="#fff"/>
<rect x="1051.34" y="205.70" width="10.35" height="8.85" fill="#000"/>
<rect x="1053.16" y="207.52" width="6.71" height="5.21" fill="#fff"/>
<line x1="1054.26" y1="212.13" x2="1059.28" y2="208.11" stroke="#000" stroke-width="1.2" />
<rect x="1024.23" y="212.22" width="7.34" height="7.34" fill="#000"/>
<rect x="1026.05" y="214.04" width="3.70" height="3.70" fill="#fff"/>
<rect x="1024.23" y="218.25" width="7.34" height="5.33" fill="#000"/>
<rect x="1026.05" y="220.07" width="3.70" height="1.69" fill="#fff"/>
<rect x="1046.82" y="211.72" width="7.84" height="7.84" fill="#000"/>
<rect x="1048.64" y="213.54" width="4.20" height="4.20" fill="#fff"/>
<rect x="1035.78" y="218.25" width="10.35" height="9.35" fill="#000"/>
<rect x="1037.60" y="220.07" width="6.71" height="5.71" fill="#fff"/>
<circle cx="1040.90" cy="223.17" r="1.5" fill="none" stroke="#000" stroke-width="0.8"/>
<rect x="1007.66" y="224.27" width="7.84" height="7.34" fill="#000"/>
<rect x="1009.48" y="226.09" width="4.20" height="3.70" fill="#fff"/>
<rect x="1031.26" y="224.27" width="7.34" height="7.34" fill="#000"/>
<rect x="1033.08" y="226.09" width="3.70" height="3.70" fill="#fff"/>
<rect x="1020.72" y="231.80" width="8.35" height="7.84" fill="#000"/>
<rect x="1022.54" y="233.62" width="4.71" height="4.20" fill="#fff"/>
<rect x="1014.19" y="236.32" width="7.84" height="7.84" fill="#000"/>
<rect x="1016.01" y="238.14" width="4.20" height="4.20" fill="#fff"/>
<rect x="994.02" y="238.43" width="3.51" height="3.82" fill="none" stroke="#000" stroke-width="1.0"/>
<path d="M1075.34 194.06 L1075.34 198.57 L1083.37 198.57 L1083.37 194.06" fill="none" stroke="#000" stroke-width="1.8" stroke-linejoin="miter" />
<line x1="992.50" y1="237.60" x2="992.50" y2="299.50" stroke="#000" stroke-width="3.0" />
<line x1="998.80" y1="237.60" x2="998.80" y2="299.50" stroke="#000" stroke-width="2.5" />
<line x1="1059.40" y1="236.73" x2="1059.40" y2="299.50" stroke="#000" stroke-width="2.4" />
<line x1="1065.10" y1="230.20" x2="1065.10" y2="299.50" stroke="#000" stroke-width="1.9" />
<line x1="1075.70" y1="223.17" x2="1075.70" y2="299.50" stroke="#000" stroke-width="2.4" />
<line x1="1082.50" y1="219.66" x2="1082.50" y2="299.50" stroke="#000" stroke-width="4.8" />
<line x1="150.00" y1="299.80" x2="1110.30" y2="299.80" stroke="#000" stroke-width="2.3" />
<rect x="150.40" y="299.50" width="6.60" height="32.90" fill="none" stroke="#000" stroke-width="2.4"/>
<rect x="157.00" y="299.50" width="20.00" height="105.30" fill="none" stroke="#000" stroke-width="2.4"/>
<line x1="177.00" y1="366.50" x2="238.00" y2="366.50" stroke="#000" stroke-width="2.4" />
<line x1="238.00" y1="299.50" x2="238.00" y2="366.50" stroke="#000" stroke-width="2.4" />
<path d="M174.6 345.6 Q172.8 352 174.6 359" fill="none" stroke="#000" stroke-width="1.4" />
<path d="M238.00 334.40 L244.50 325.60 L247.50 324.60 L272.50 333.60" fill="none" stroke="#000" stroke-width="2.4" stroke-linejoin="miter" />
<line x1="272.80" y1="299.50" x2="272.80" y2="359.50" stroke="#000" stroke-width="2.4" />
<path d="M272.80 358.60 L279.50 360.00" fill="none" stroke="#000" stroke-width="2.4" stroke-linejoin="miter" />
<line x1="280.20" y1="299.50" x2="280.20" y2="372.00" stroke="#000" stroke-width="3.8" />
<path d="M279.00 372.00 L282.60 372.60 L282.60 384.00 L285.60 384.60 L285.60 396.00 L289.40 396.60" fill="none" stroke="#000" stroke-width="1.8" stroke-linejoin="miter" />
<line x1="285.60" y1="299.50" x2="285.60" y2="384.00" stroke="#000" stroke-width="1.9" />
<line x1="282.90" y1="299.50" x2="282.90" y2="372.00" stroke="#000" stroke-width="1.3" />
<line x1="289.40" y1="299.50" x2="289.40" y2="421.00" stroke="#000" stroke-width="2.4" />
<line x1="289.40" y1="421.00" x2="439.00" y2="421.00" stroke="#000" stroke-width="2.4" />
<line x1="439.00" y1="299.50" x2="439.00" y2="421.00" stroke="#000" stroke-width="2.4" />
<line x1="439.00" y1="421.00" x2="445.60" y2="428.00" stroke="#000" stroke-width="2.4" />
<line x1="445.60" y1="299.50" x2="445.60" y2="428.00" stroke="#000" stroke-width="2.4" />
<line x1="445.60" y1="428.00" x2="558.00" y2="428.00" stroke="#000" stroke-width="2.4" />
<line x1="558.00" y1="299.50" x2="558.00" y2="428.00" stroke="#000" stroke-width="2.4" />
<line x1="558.00" y1="426.50" x2="568.60" y2="415.60" stroke="#000" stroke-width="2.4" />
<line x1="568.60" y1="299.50" x2="568.60" y2="415.60" stroke="#000" stroke-width="2.4" />
<line x1="568.60" y1="415.40" x2="1004.60" y2="415.40" stroke="#000" stroke-width="2.5" />
<line x1="1004.40" y1="299.50" x2="1004.40" y2="415.60" stroke="#000" stroke-width="2.3" />
<line x1="1008.80" y1="299.50" x2="1008.80" y2="428.60" stroke="#000" stroke-width="2.0" />
<line x1="1008.30" y1="428.60" x2="1110.30" y2="428.60" stroke="#000" stroke-width="2.4" />
<line x1="1105.40" y1="299.50" x2="1105.40" y2="428.60" stroke="#000" stroke-width="2.3" />
<line x1="1110.10" y1="299.50" x2="1110.10" y2="428.60" stroke="#000" stroke-width="2.3" />
<rect x="466.00" y="421.50" width="71.00" height="11.50" fill="#fff"/>
<path d="M465 429.6 Q501.5 412.5 538 429.6" fill="none" stroke="#000" stroke-width="2.4" />
<path d="M465.00 429.60 L465.00 433.40 L538.00 433.40 L538.00 429.60" fill="none" stroke="#000" stroke-width="2.4" stroke-linejoin="miter" />
<line x1="465.00" y1="429.50" x2="478.00" y2="429.50" stroke="#000" stroke-width="1.2" />
<line x1="525.00" y1="429.50" x2="538.00" y2="429.50" stroke="#000" stroke-width="1.2" />
<path d="M470 433.4 L470 498.5 Q470 500 471.5 500 L533 500 Q534.6 500 534.6 498.5 L534.6 433.4" fill="none" stroke="#000" stroke-width="2.4" />
<line x1="470.50" y1="499.30" x2="534.00" y2="499.30" stroke="#000" stroke-width="2.8" />
<ellipse cx="195" cy="359.8" rx="10.8" ry="5" fill="#000"/>
<ellipse cx="196.6" cy="364.6" rx="5.8" ry="3.6" fill="#000"/>
<ellipse cx="197" cy="368.2" rx="6.0" ry="4.2" fill="#000"/>
<ellipse cx="197.4" cy="368.6" rx="3.2" ry="1.7" fill="#fff"/>
<path d="M190.5 360.6 Q196 357.4 201.5 359.4" fill="none" stroke="#fff" stroke-width="0.9"/>
<path d="M192.6 364.6 Q196 362.2 200.5 363.4" fill="none" stroke="#fff" stroke-width="0.9"/>
<line x1="40.50" y1="166.50" x2="465.00" y2="166.50" stroke="#000" stroke-width="1.2" />
<line x1="60.00" y1="179.50" x2="289.40" y2="179.50" stroke="#000" stroke-width="1.2" />
<line x1="60.00" y1="421.50" x2="289.40" y2="421.50" stroke="#000" stroke-width="1.2" />
<line x1="40.50" y1="433.50" x2="465.00" y2="433.50" stroke="#000" stroke-width="1.2" />
<line x1="46.50" y1="166.90" x2="46.50" y2="433.50" stroke="#000" stroke-width="1.2" />
<path d="M46.50 166.90 L48.80 178.70 L44.20 178.70 Z" fill="#000"/>
<path d="M46.50 433.50 L44.20 421.70 L48.80 421.70 Z" fill="#000"/>
<line x1="66.50" y1="179.20" x2="66.50" y2="421.00" stroke="#000" stroke-width="1.2" />
<path d="M66.50 179.20 L68.80 191.00 L64.20 191.00 Z" fill="#000"/>
<path d="M66.50 421.00 L64.20 409.20 L68.80 409.20 Z" fill="#000"/>
<line x1="95.50" y1="213.00" x2="95.50" y2="300.60" stroke="#000" stroke-width="1.2" />
<path d="M95.00 213.00 L97.30 224.80 L92.70 224.80 Z" fill="#000"/>
<line x1="89.00" y1="213.50" x2="176.00" y2="213.50" stroke="#000" stroke-width="1.2" />
<line x1="176.00" y1="213.50" x2="219.00" y2="213.50" stroke="#000" stroke-width="0.9" stroke-dasharray="6 4.5"/>
<line x1="125.50" y1="179.20" x2="125.50" y2="278.00" stroke="#000" stroke-width="1.2" />
<path d="M125.80 202.40 L123.50 190.60 L128.10 190.60 Z" fill="#000"/>
<path d="M125.80 224.00 L128.10 235.80 L123.50 235.80 Z" fill="#000"/>
<line x1="119.40" y1="202.50" x2="157.00" y2="202.50" stroke="#000" stroke-width="1.2" />
<line x1="119.40" y1="224.50" x2="157.00" y2="224.50" stroke="#000" stroke-width="1.2" />
<line x1="157.50" y1="53.00" x2="157.50" y2="195.00" stroke="#000" stroke-width="1.2" />
<line x1="289.50" y1="53.40" x2="289.50" y2="179.00" stroke="#000" stroke-width="1.2" />
<line x1="157.40" y1="59.50" x2="289.40" y2="59.50" stroke="#000" stroke-width="1.2" />
<path d="M157.40 59.40 L169.20 57.10 L169.20 61.70 Z" fill="#000"/>
<path d="M289.40 59.40 L277.60 61.70 L277.60 57.10 Z" fill="#000"/>
<line x1="208.50" y1="115.00" x2="208.50" y2="537.00" stroke="#000" stroke-width="1.2" />
<line x1="208.70" y1="121.50" x2="289.40" y2="121.50" stroke="#000" stroke-width="1.2" />
<path d="M208.70 121.40 L220.50 119.10 L220.50 123.70 Z" fill="#000"/>
<path d="M289.40 121.40 L277.60 123.70 L277.60 119.10 Z" fill="#000"/>
<line x1="289.40" y1="66.50" x2="501.40" y2="66.50" stroke="#000" stroke-width="1.2" />
<path d="M289.40 66.40 L301.20 64.10 L301.20 68.70 Z" fill="#000"/>
<path d="M501.40 66.40 L489.60 68.70 L489.60 64.10 Z" fill="#000"/>
<line x1="501.50" y1="60.00" x2="501.50" y2="498.00" stroke="#666" stroke-width="1.0" stroke-dasharray="60 4 8 4"/>
<line x1="469.50" y1="39.00" x2="469.50" y2="99.40" stroke="#000" stroke-width="1.2" />
<line x1="534.50" y1="39.00" x2="534.50" y2="99.40" stroke="#000" stroke-width="1.2" />
<line x1="469.40" y1="45.50" x2="534.40" y2="45.50" stroke="#000" stroke-width="1.2" />
<path d="M469.40 45.40 L481.20 43.10 L481.20 47.70 Z" fill="#000"/>
<path d="M534.40 45.40 L522.60 47.70 L522.60 43.10 Z" fill="#000"/>
<line x1="534.40" y1="45.50" x2="592.40" y2="45.50" stroke="#000" stroke-width="1.2" />
<line x1="412.60" y1="99.50" x2="469.40" y2="99.50" stroke="#000" stroke-width="1.2" />
<line x1="418.50" y1="99.40" x2="418.50" y2="166.90" stroke="#000" stroke-width="1.2" />
<path d="M418.60 99.40 L420.90 111.20 L416.30 111.20 Z" fill="#000"/>
<path d="M418.60 166.90 L416.30 155.10 L420.90 155.10 Z" fill="#000"/>
<line x1="952.50" y1="109.00" x2="952.50" y2="154.00" stroke="#000" stroke-width="1.2" />
<line x1="952.50" y1="154.00" x2="952.50" y2="199.00" stroke="#333" stroke-width="0.9" stroke-dasharray="14 2.5 3 2.5"/>
<line x1="1110.50" y1="109.00" x2="1110.50" y2="171.00" stroke="#000" stroke-width="1.2" />
<line x1="952.40" y1="114.50" x2="1110.20" y2="114.50" stroke="#000" stroke-width="1.2" />
<path d="M952.40 114.70 L964.20 112.40 L964.20 117.00 Z" fill="#000"/>
<path d="M1110.20 114.70 L1098.40 117.00 L1098.40 112.40 Z" fill="#000"/>
<line x1="862.00" y1="140.50" x2="970.00" y2="140.50" stroke="#000" stroke-width="1.2" />
<path d="M934.80 140.00 L946.60 137.70 L946.60 142.30 Z" fill="#000"/>
<path d="M970.00 140.00 L958.20 142.30 L958.20 137.70 Z" fill="#000"/>
<line x1="934.50" y1="134.00" x2="934.50" y2="154.00" stroke="#000" stroke-width="1.2" />
<line x1="970.50" y1="134.00" x2="970.50" y2="154.00" stroke="#000" stroke-width="1.2" />
<line x1="1110.00" y1="171.50" x2="1189.80" y2="171.50" stroke="#000" stroke-width="1.2" />
<line x1="1110.00" y1="428.50" x2="1189.60" y2="428.50" stroke="#000" stroke-width="1.2" />
<line x1="1183.50" y1="171.30" x2="1183.50" y2="428.60" stroke="#000" stroke-width="1.2" />
<path d="M1183.70 171.30 L1186.00 183.10 L1181.40 183.10 Z" fill="#000"/>
<path d="M1183.70 428.60 L1181.40 416.80 L1186.00 416.80 Z" fill="#000"/>
<line x1="150.50" y1="299.50" x2="150.50" y2="494.40" stroke="#000" stroke-width="1.2" />
<line x1="150.50" y1="488.50" x2="208.70" y2="488.50" stroke="#000" stroke-width="1.2" />
<path d="M150.50 488.60 L162.30 486.30 L162.30 490.90 Z" fill="#000"/>
<path d="M208.70 488.60 L196.90 490.90 L196.90 486.30 Z" fill="#000"/>
<line x1="445.50" y1="428.00" x2="445.50" y2="526.00" stroke="#000" stroke-width="1.2" />
<line x1="558.50" y1="428.00" x2="558.50" y2="526.00" stroke="#000" stroke-width="1.2" />
<line x1="445.60" y1="520.50" x2="558.00" y2="520.50" stroke="#000" stroke-width="1.2" />
<path d="M445.60 520.20 L457.40 517.90 L457.40 522.50 Z" fill="#000"/>
<path d="M558.00 520.20 L546.20 522.50 L546.20 517.90 Z" fill="#000"/>
<line x1="1110.50" y1="428.60" x2="1110.50" y2="537.00" stroke="#000" stroke-width="1.2" />
<line x1="208.70" y1="531.50" x2="1110.40" y2="531.50" stroke="#000" stroke-width="1.2" />
<path d="M208.70 531.00 L220.50 528.70 L220.50 533.30 Z" fill="#000"/>
<path d="M1110.40 531.00 L1098.60 533.30 L1098.60 528.70 Z" fill="#000"/>
<rect x="663.00" y="279.00" width="15.60" height="23.00" fill="#fff"/>
<rect x="697.00" y="279.00" width="15.40" height="23.00" fill="#fff"/>
<rect x="731.00" y="279.00" width="15.00" height="23.00" fill="#fff"/>
<rect x="765.00" y="279.00" width="15.00" height="23.00" fill="#fff"/>
<rect x="792.40" y="279.00" width="14.40" height="23.00" fill="#fff"/>
<line x1="679.50" y1="184.60" x2="679.50" y2="300.00" stroke="#000" stroke-width="1.2" />
<path d="M679.00 184.60 L680.70 195.10 L677.30 195.10 Z" fill="#000"/>
<g transform="translate(676.80 316.50) rotate(-90)" fill="none" stroke="#333" stroke-width="1.05"><ellipse cx="5.6" cy="-5.4" rx="4.3" ry="4.9" transform="rotate(12 5.6 -5.4)"/><path d="M2.6 2.2 L8.8 -13"/></g>
<text transform="translate(676.80 302.00) rotate(-90) scale(0.72 1)" font-family="Liberation Sans" font-size="16.4" font-weight="normal" text-anchor="start" fill="#333" xml:space="preserve">143</text>
<line x1="713.50" y1="204.20" x2="713.50" y2="300.00" stroke="#000" stroke-width="1.2" />
<path d="M713.00 204.20 L714.70 214.70 L711.30 214.70 Z" fill="#000"/>
<g transform="translate(710.80 316.50) rotate(-90)" fill="none" stroke="#333" stroke-width="1.05"><ellipse cx="5.6" cy="-5.4" rx="4.3" ry="4.9" transform="rotate(12 5.6 -5.4)"/><path d="M2.6 2.2 L8.8 -13"/></g>
<text transform="translate(710.80 302.00) rotate(-90) scale(0.72 1)" font-family="Liberation Sans" font-size="16.4" font-weight="normal" text-anchor="start" fill="#333" xml:space="preserve">120</text>
<line x1="746.50" y1="216.60" x2="746.50" y2="300.00" stroke="#000" stroke-width="1.2" />
<path d="M746.60 216.60 L748.30 227.10 L744.90 227.10 Z" fill="#000"/>
<g transform="translate(744.40 316.50) rotate(-90)" fill="none" stroke="#333" stroke-width="1.05"><ellipse cx="5.6" cy="-5.4" rx="4.3" ry="4.9" transform="rotate(12 5.6 -5.4)"/><path d="M2.6 2.2 L8.8 -13"/></g>
<text transform="translate(744.40 302.00) rotate(-90) scale(0.72 1)" font-family="Liberation Sans" font-size="16.4" font-weight="normal" text-anchor="start" fill="#333" xml:space="preserve">105</text>
<line x1="780.50" y1="228.60" x2="780.50" y2="300.00" stroke="#000" stroke-width="1.2" />
<path d="M780.60 228.60 L782.30 239.10 L778.90 239.10 Z" fill="#000"/>
<g transform="translate(778.40 316.50) rotate(-90)" fill="none" stroke="#333" stroke-width="1.05"><ellipse cx="5.6" cy="-5.4" rx="4.3" ry="4.9" transform="rotate(12 5.6 -5.4)"/><path d="M2.6 2.2 L8.8 -13"/></g>
<text transform="translate(778.40 302.00) rotate(-90) scale(0.72 1)" font-family="Liberation Sans" font-size="16.4" font-weight="normal" text-anchor="start" fill="#333" xml:space="preserve">90</text>
<line x1="807.50" y1="240.80" x2="807.50" y2="300.00" stroke="#000" stroke-width="1.2" />
<path d="M807.40 240.80 L809.10 251.30 L805.70 251.30 Z" fill="#000"/>
<g transform="translate(805.20 316.50) rotate(-90)" fill="none" stroke="#333" stroke-width="1.05"><ellipse cx="5.6" cy="-5.4" rx="4.3" ry="4.9" transform="rotate(12 5.6 -5.4)"/><path d="M2.6 2.2 L8.8 -13"/></g>
<text transform="translate(805.20 302.00) rotate(-90) scale(0.72 1)" font-family="Liberation Sans" font-size="16.4" font-weight="normal" text-anchor="start" fill="#333" xml:space="preserve">75</text>
<line x1="732.00" y1="137.60" x2="737.40" y2="184.00" stroke="#000" stroke-width="1.15" />
<path d="M737.40 184.00 L734.66 174.25 L737.84 173.88 Z" fill="#000"/>
<circle cx="730.00" cy="117.40" r="20.6" fill="#fff" stroke="#000" stroke-width="1"/>
<line x1="709.40" y1="117.50" x2="750.60" y2="117.50" stroke="#000" stroke-width="1" />
<text transform="translate(730.00 113.00) scale(0.78 1)" font-family="Liberation Sans" font-size="13.8" font-weight="normal" text-anchor="middle" fill="#333" xml:space="preserve">5</text>
<text transform="translate(730.00 132.00) scale(0.78 1)" font-family="Liberation Sans" font-size="13.8" font-weight="normal" text-anchor="middle" fill="#333" xml:space="preserve">1</text>
<line x1="238.50" y1="214.50" x2="211.00" y2="243.00" stroke="#000" stroke-width="1.15" />
<path d="M210.60 243.40 L215.01 236.53 L217.31 238.76 Z" fill="#000"/>
<circle cx="253.00" cy="199.20" r="20.6" fill="#fff" stroke="#000" stroke-width="1"/>
<line x1="232.40" y1="199.50" x2="273.60" y2="199.50" stroke="#000" stroke-width="1" />
<text transform="translate(253.00 194.80) scale(0.78 1)" font-family="Liberation Sans" font-size="13.8" font-weight="normal" text-anchor="middle" fill="#333" xml:space="preserve">3</text>
<text transform="translate(253.00 213.80) scale(0.78 1)" font-family="Liberation Sans" font-size="13.8" font-weight="normal" text-anchor="middle" fill="#333" xml:space="preserve">1</text>
<line x1="111.90" y1="330.60" x2="149.60" y2="286.20" stroke="#000" stroke-width="1.15" />
<path d="M149.60 286.20 L145.00 294.10 L142.56 292.03 Z" fill="#000"/>
<circle cx="98.10" cy="347.20" r="20.6" fill="#fff" stroke="#000" stroke-width="1"/>
<line x1="77.50" y1="347.50" x2="118.70" y2="347.50" stroke="#000" stroke-width="1" />
<text transform="translate(98.10 342.80) scale(0.78 1)" font-family="Liberation Sans" font-size="13.8" font-weight="normal" text-anchor="middle" fill="#333" xml:space="preserve">2</text>
<text transform="translate(98.10 361.80) scale(0.78 1)" font-family="Liberation Sans" font-size="13.8" font-weight="normal" text-anchor="middle" fill="#333" xml:space="preserve">1</text>
<line x1="113.10" y1="380.60" x2="161.40" y2="302.00" stroke="#000" stroke-width="1.15" />
<path d="M161.60 301.60 L158.25 310.10 L155.52 308.43 Z" fill="#000"/>
<circle cx="101.60" cy="399.10" r="20.6" fill="#fff" stroke="#000" stroke-width="1"/>
<line x1="81.00" y1="399.50" x2="122.20" y2="399.50" stroke="#000" stroke-width="1" />
<text transform="translate(101.60 394.70) scale(0.78 1)" font-family="Liberation Sans" font-size="13.8" font-weight="normal" text-anchor="middle" fill="#333" xml:space="preserve">5</text>
<text transform="translate(101.60 413.70) scale(0.78 1)" font-family="Liberation Sans" font-size="13.8" font-weight="normal" text-anchor="middle" fill="#333" xml:space="preserve">1</text>
<line x1="1186.00" y1="147.50" x2="1090.60" y2="205.30" stroke="#000" stroke-width="1.15" />
<path d="M1090.60 205.30 L1097.47 199.27 L1099.13 202.01 Z" fill="#000"/>
<circle cx="1204.00" cy="135.70" r="20.6" fill="#fff" stroke="#000" stroke-width="1"/>
<line x1="1183.40" y1="135.50" x2="1224.60" y2="135.50" stroke="#000" stroke-width="1" />
<text transform="translate(1204.00 131.30) scale(0.78 1)" font-family="Liberation Sans" font-size="13.8" font-weight="normal" text-anchor="middle" fill="#333" xml:space="preserve">8</text>
<text transform="translate(1204.00 150.30) scale(0.78 1)" font-family="Liberation Sans" font-size="13.8" font-weight="normal" text-anchor="middle" fill="#333" xml:space="preserve">1</text>
<line x1="1190.60" y1="188.00" x2="1088.50" y2="216.00" stroke="#000" stroke-width="1.15" />
<circle cx="1210.70" cy="181.20" r="20.6" fill="#fff" stroke="#000" stroke-width="1"/>
<line x1="1190.10" y1="181.50" x2="1231.30" y2="181.50" stroke="#000" stroke-width="1" />
<text transform="translate(1210.70 176.80) scale(0.78 1)" font-family="Liberation Sans" font-size="13.8" font-weight="normal" text-anchor="middle" fill="#333" xml:space="preserve">7</text>
<text transform="translate(1210.70 195.80) scale(0.78 1)" font-family="Liberation Sans" font-size="13.8" font-weight="normal" text-anchor="middle" fill="#333" xml:space="preserve">1</text>
<circle cx="1208.80" cy="231.60" r="20.6" fill="#fff" stroke="#000" stroke-width="1"/>
<line x1="1188.20" y1="231.50" x2="1229.40" y2="231.50" stroke="#000" stroke-width="1" />
<text transform="translate(1208.80 227.20) scale(0.78 1)" font-family="Liberation Sans" font-size="13.8" font-weight="normal" text-anchor="middle" fill="#333" xml:space="preserve">6</text>
<text transform="translate(1208.80 246.20) scale(0.78 1)" font-family="Liberation Sans" font-size="13.8" font-weight="normal" text-anchor="middle" fill="#333" xml:space="preserve">1</text>
<line x1="1066.30" y1="231.50" x2="1229.40" y2="231.50" stroke="#000" stroke-width="1" />
<line x1="1165.00" y1="483.60" x2="1110.80" y2="429.20" stroke="#000" stroke-width="1.15" />
<path d="M1110.80 429.20 L1116.81 433.09 L1114.69 435.21 Z" fill="#000"/>
<circle cx="1180.00" cy="498.80" r="20.6" fill="#fff" stroke="#000" stroke-width="1"/>
<line x1="1159.40" y1="498.50" x2="1200.60" y2="498.50" stroke="#000" stroke-width="1" />
<text transform="translate(1180.00 494.40) scale(0.78 1)" font-family="Liberation Sans" font-size="13.8" font-weight="normal" text-anchor="middle" fill="#333" xml:space="preserve">1</text>
<text transform="translate(1180.00 513.40) scale(0.78 1)" font-family="Liberation Sans" font-size="13.8" font-weight="normal" text-anchor="middle" fill="#333" xml:space="preserve">1</text>
<text transform="translate(221.60 56.60) scale(0.72 1)" font-family="Liberation Sans" font-size="16.4" font-weight="normal" text-anchor="middle" fill="#333" xml:space="preserve">82</text>
<text transform="translate(247.40 118.60) scale(0.72 1)" font-family="Liberation Sans" font-size="16.4" font-weight="normal" text-anchor="middle" fill="#333" xml:space="preserve">50</text>
<text transform="translate(395.50 63.60) scale(0.72 1)" font-family="Liberation Sans" font-size="16.4" font-weight="normal" text-anchor="middle" fill="#333" xml:space="preserve">132</text>
<g transform="translate(540.00 42.40)" fill="none" stroke="#333" stroke-width="1.05"><ellipse cx="5.6" cy="-5.4" rx="4.3" ry="4.9" transform="rotate(12 5.6 -5.4)"/><path d="M2.6 2.2 L8.8 -13"/></g>
<text transform="translate(555.00 42.40) scale(0.72 1)" font-family="Liberation Sans" font-size="16.4" font-weight="normal" text-anchor="start" fill="#333" xml:space="preserve">40</text>
<text transform="translate(574.00 33.00) scale(0.8 1)" font-family="Liberation Sans" font-size="9.6" font-weight="normal" text-anchor="start" fill="#333" xml:space="preserve">&#8722;0.2</text>
<text transform="translate(574.00 43.00) scale(0.8 1)" font-family="Liberation Sans" font-size="9.6" font-weight="normal" text-anchor="start" fill="#333" xml:space="preserve">&#8722;0.3</text>
<text transform="translate(415.60 133.00) rotate(-90) scale(0.72 1)" font-family="Liberation Sans" font-size="16.4" font-weight="normal" text-anchor="middle" fill="#333" xml:space="preserve">42</text>
<text transform="translate(1025.60 111.00) scale(0.72 1)" font-family="Liberation Sans" font-size="16.4" font-weight="normal" text-anchor="middle" fill="#333" xml:space="preserve">98</text>
<text transform="translate(866.40 137.60) scale(0.72 1)" font-family="Liberation Sans" font-size="16.4" font-weight="normal" text-anchor="start" fill="#333" textLength="70.28" lengthAdjust="spacingAndGlyphs" xml:space="preserve">M22 x 1.5</text>
<text transform="translate(866.40 154.40) scale(0.72 1)" font-family="Liberation Sans" font-size="16.4" font-weight="normal" text-anchor="start" fill="#333" textLength="60.00" lengthAdjust="spacingAndGlyphs" xml:space="preserve">DIN3852</text>
<text transform="translate(179.40 485.60) scale(0.72 1)" font-family="Liberation Sans" font-size="16.4" font-weight="normal" text-anchor="middle" fill="#333" xml:space="preserve">36</text>
<text transform="translate(502.00 516.60) scale(0.72 1)" font-family="Liberation Sans" font-size="16.4" font-weight="normal" text-anchor="middle" fill="#333" xml:space="preserve">70</text>
<text transform="translate(587.00 527.60) scale(0.72 1)" font-family="Liberation Sans" font-size="16.4" font-weight="normal" text-anchor="start" fill="#333" textLength="75.83" lengthAdjust="spacingAndGlyphs" xml:space="preserve">559 /2159</text>
<text transform="translate(679.00 527.60) scale(0.72 1)" font-family="Liberation Sans" font-size="16.4" font-weight="normal" text-anchor="start" fill="#333" textLength="74.17" lengthAdjust="spacingAndGlyphs" xml:space="preserve">( H=1600 )</text>
<text transform="translate(747.60 458.60) scale(0.72 1)" font-family="Liberation Sans" font-size="16.4" font-weight="normal" text-anchor="start" fill="#333" textLength="163.06" lengthAdjust="spacingAndGlyphs" xml:space="preserve">1. Ci&#347;nienie nominalne</text>
<text transform="translate(870.00 458.60) scale(0.72 1)" font-family="Liberation Sans" font-size="16.4" font-weight="normal" text-anchor="start" fill="#333" textLength="8.33" lengthAdjust="spacingAndGlyphs" xml:space="preserve">&#8211;</text>
<text transform="translate(882.40 458.60) scale(0.72 1)" font-family="Liberation Sans" font-size="16.4" font-weight="normal" text-anchor="start" fill="#333" textLength="45.28" lengthAdjust="spacingAndGlyphs" xml:space="preserve">16MPa</text>
<text transform="translate(747.00 476.60) scale(0.72 1)" font-family="Liberation Sans" font-size="16.4" font-weight="normal" text-anchor="start" fill="#333" textLength="143.61" lengthAdjust="spacingAndGlyphs" xml:space="preserve">2. Ci&#347;nienie pr&#243;bne</text>
<text transform="translate(870.00 476.60) scale(0.72 1)" font-family="Liberation Sans" font-size="16.4" font-weight="normal" text-anchor="start" fill="#333" textLength="8.33" lengthAdjust="spacingAndGlyphs" xml:space="preserve">&#8211;</text>
<text transform="translate(881.60 476.60) scale(0.72 1)" font-family="Liberation Sans" font-size="16.4" font-weight="normal" text-anchor="start" fill="#333" textLength="49.17" lengthAdjust="spacingAndGlyphs" xml:space="preserve">20MPa</text>
<text transform="translate(43.80 317.50) rotate(-90) scale(0.72 1)" font-family="Liberation Sans" font-size="16.4" font-weight="normal" text-anchor="start" fill="#333" textLength="27.08" lengthAdjust="spacingAndGlyphs" xml:space="preserve">165</text>
<text transform="translate(43.80 295.00) rotate(-90) scale(0.8 1)" font-family="Liberation Sans" font-size="9.6" font-weight="normal" text-anchor="start" fill="#333" xml:space="preserve">&#8722;0.5</text>
<g transform="translate(63.80 316.50) rotate(-90)" fill="none" stroke="#333" stroke-width="1.05"><ellipse cx="5.6" cy="-5.4" rx="4.3" ry="4.9" transform="rotate(12 5.6 -5.4)"/><path d="M2.6 2.2 L8.8 -13"/></g>
<text transform="translate(63.80 302.00) rotate(-90) scale(0.72 1)" font-family="Liberation Sans" font-size="16.4" font-weight="normal" text-anchor="start" fill="#333" textLength="25.69" lengthAdjust="spacingAndGlyphs" xml:space="preserve">150</text>
<g transform="translate(92.50 316.50) rotate(-90)" fill="none" stroke="#333" stroke-width="1.05"><ellipse cx="5.6" cy="-5.4" rx="4.3" ry="4.9" transform="rotate(12 5.6 -5.4)"/><path d="M2.6 2.2 L8.8 -13"/></g>
<text transform="translate(92.50 302.00) rotate(-90) scale(0.72 1)" font-family="Liberation Sans" font-size="16.4" font-weight="normal" text-anchor="start" fill="#333" textLength="25.69" lengthAdjust="spacingAndGlyphs" xml:space="preserve">108</text>
<g transform="translate(123.00 273.50) rotate(-90)" fill="none" stroke="#333" stroke-width="1.05"><ellipse cx="5.6" cy="-5.4" rx="4.3" ry="4.9" transform="rotate(12 5.6 -5.4)"/><path d="M2.6 2.2 L8.8 -13"/></g>
<text transform="translate(123.00 260.00) rotate(-90) scale(0.72 1)" font-family="Liberation Sans" font-size="16.4" font-weight="normal" text-anchor="start" fill="#333" textLength="15.28" lengthAdjust="spacingAndGlyphs" xml:space="preserve">13</text>
<text transform="translate(140.00 273.80) rotate(-90) scale(0.72 1)" font-family="Liberation Sans" font-size="16.4" font-weight="normal" text-anchor="start" fill="#333" textLength="34.72" lengthAdjust="spacingAndGlyphs" xml:space="preserve">6otw</text>
<g transform="translate(1181.60 316.20) rotate(-90)" fill="none" stroke="#333" stroke-width="1.05"><ellipse cx="5.6" cy="-5.4" rx="4.3" ry="4.9" transform="rotate(12 5.6 -5.4)"/><path d="M2.6 2.2 L8.8 -13"/></g>
<text transform="translate(1181.60 301.70) rotate(-90) scale(0.72 1)" font-family="Liberation Sans" font-size="16.4" font-weight="normal" text-anchor="start" fill="#333" textLength="25.69" lengthAdjust="spacingAndGlyphs" xml:space="preserve">160</text>
<g transform="translate(183.5 262.5) rotate(53)"><rect x="-1" y="-11.5" width="32" height="13.5" fill="#fff"/></g>
<text transform="translate(184.50 264.50) rotate(53) scale(0.78 1)" font-family="Liberation Sans" font-size="15" font-weight="normal" text-anchor="start" fill="#444" textLength="38.46" lengthAdjust="spacingAndGlyphs" xml:space="preserve">&#934;K55</text>
<line x1="178.00" y1="268.00" x2="201.00" y2="292.00" stroke="#000" stroke-width="0.8" />
<path d="M181.80 270.60 L188.60 275.20 L185.60 278.20 Z" fill="#000" stroke="#000" stroke-width="0.5" stroke-linejoin="miter" />
<text transform="translate(41.60 743.00) scale(0.8 1.12)" font-family="Liberation Serif" font-size="15.2" font-weight="bold" text-anchor="start" fill="#000" textLength="64.25" lengthAdjust="spacingAndGlyphs" xml:space="preserve">Technical</text>
<text transform="translate(100.00 743.00) scale(0.8 1.12)" font-family="Liberation Serif" font-size="15.2" font-weight="bold" text-anchor="start" fill="#000" textLength="93.75" lengthAdjust="spacingAndGlyphs" xml:space="preserve">Requirements:</text>
<text transform="translate(41.60 765.00) scale(0.8 1.12)" font-family="Liberation Serif" font-size="15.2" font-weight="bold" text-anchor="start" fill="#000" textLength="4.25" lengthAdjust="spacingAndGlyphs" xml:space="preserve">&#8226;</text>
<text transform="translate(49.00 765.00) scale(0.8 1.12)" font-family="Liberation Serif" font-size="15.2" font-weight="bold" text-anchor="start" fill="#000" textLength="25.00" lengthAdjust="spacingAndGlyphs" xml:space="preserve">Max.</text>
<text transform="translate(78.00 765.00) scale(0.8 1.12)" font-family="Liberation Serif" font-size="15.2" font-weight="bold" text-anchor="start" fill="#000" textLength="51.25" lengthAdjust="spacingAndGlyphs" xml:space="preserve">working</text>
<text transform="translate(125.60 765.00) scale(0.8 1.12)" font-family="Liberation Serif" font-size="15.2" font-weight="bold" text-anchor="start" fill="#000" textLength="61.75" lengthAdjust="spacingAndGlyphs" xml:space="preserve">pressure:</text>
<text transform="translate(184.00 765.00) scale(0.8 1.12)" font-family="Liberation Serif" font-size="15.2" font-weight="bold" text-anchor="start" fill="#000" textLength="21.25" lengthAdjust="spacingAndGlyphs" xml:space="preserve">160</text>
<text transform="translate(207.00 765.00) scale(0.8 1.12)" font-family="Liberation Serif" font-size="15.2" font-weight="bold" text-anchor="start" fill="#000" textLength="27.50" lengthAdjust="spacingAndGlyphs" xml:space="preserve">bar;</text>
<text transform="translate(41.60 787.00) scale(0.8 1.12)" font-family="Liberation Serif" font-size="15.2" font-weight="bold" text-anchor="start" fill="#000" textLength="4.25" lengthAdjust="spacingAndGlyphs" xml:space="preserve">&#8226;</text>
<text transform="translate(49.00 787.00) scale(0.8 1.12)" font-family="Liberation Serif" font-size="15.2" font-weight="bold" text-anchor="start" fill="#000" textLength="28.75" lengthAdjust="spacingAndGlyphs" xml:space="preserve">Test</text>
<text transform="translate(78.00 787.00) scale(0.8 1.12)" font-family="Liberation Serif" font-size="15.2" font-weight="bold" text-anchor="start" fill="#000" textLength="63.75" lengthAdjust="spacingAndGlyphs" xml:space="preserve">pressure:</text>
<text transform="translate(137.00 787.00) scale(0.8 1.12)" font-family="Liberation Serif" font-size="15.2" font-weight="bold" text-anchor="start" fill="#000" textLength="21.25" lengthAdjust="spacingAndGlyphs" xml:space="preserve">200</text>
<text transform="translate(160.00 787.00) scale(0.8 1.12)" font-family="Liberation Serif" font-size="15.2" font-weight="bold" text-anchor="start" fill="#000" textLength="27.00" lengthAdjust="spacingAndGlyphs" xml:space="preserve">bar;</text>
<text transform="translate(41.60 809.40) scale(0.8 1.12)" font-family="Liberation Serif" font-size="15.2" font-weight="bold" text-anchor="start" fill="#000" textLength="4.25" lengthAdjust="spacingAndGlyphs" xml:space="preserve">&#8226;</text>
<text transform="translate(49.00 809.40) scale(0.8 1.12)" font-family="Liberation Serif" font-size="15.2" font-weight="bold" text-anchor="start" fill="#000" textLength="21.75" lengthAdjust="spacingAndGlyphs" xml:space="preserve">Rod</text>
<text transform="translate(72.40 809.40) scale(0.8 1.12)" font-family="Liberation Serif" font-size="15.2" font-weight="bold" text-anchor="start" fill="#000" textLength="64.50" lengthAdjust="spacingAndGlyphs" xml:space="preserve">diameter:</text>
<text transform="translate(131.00 809.40) scale(0.8 1.12)" font-family="Liberation Serif" font-size="15.2" font-weight="bold" text-anchor="start" fill="#000" textLength="95.00" lengthAdjust="spacingAndGlyphs" xml:space="preserve">120/105/90/75</text>
<text transform="translate(41.60 831.40) scale(0.8 1.12)" font-family="Liberation Serif" font-size="15.2" font-weight="bold" text-anchor="start" fill="#000" textLength="4.25" lengthAdjust="spacingAndGlyphs" xml:space="preserve">&#8226;</text>
<text transform="translate(49.00 831.40) scale(0.8 1.12)" font-family="Liberation Serif" font-size="15.2" font-weight="bold" text-anchor="start" fill="#000" textLength="48.75" lengthAdjust="spacingAndGlyphs" xml:space="preserve">Stroke:</text>
<text transform="translate(96.00 831.40) scale(0.8 1.12)" font-family="Liberation Serif" font-size="15.2" font-weight="bold" text-anchor="start" fill="#000" textLength="28.00" lengthAdjust="spacingAndGlyphs" xml:space="preserve">1600</text></svg></body></html>
